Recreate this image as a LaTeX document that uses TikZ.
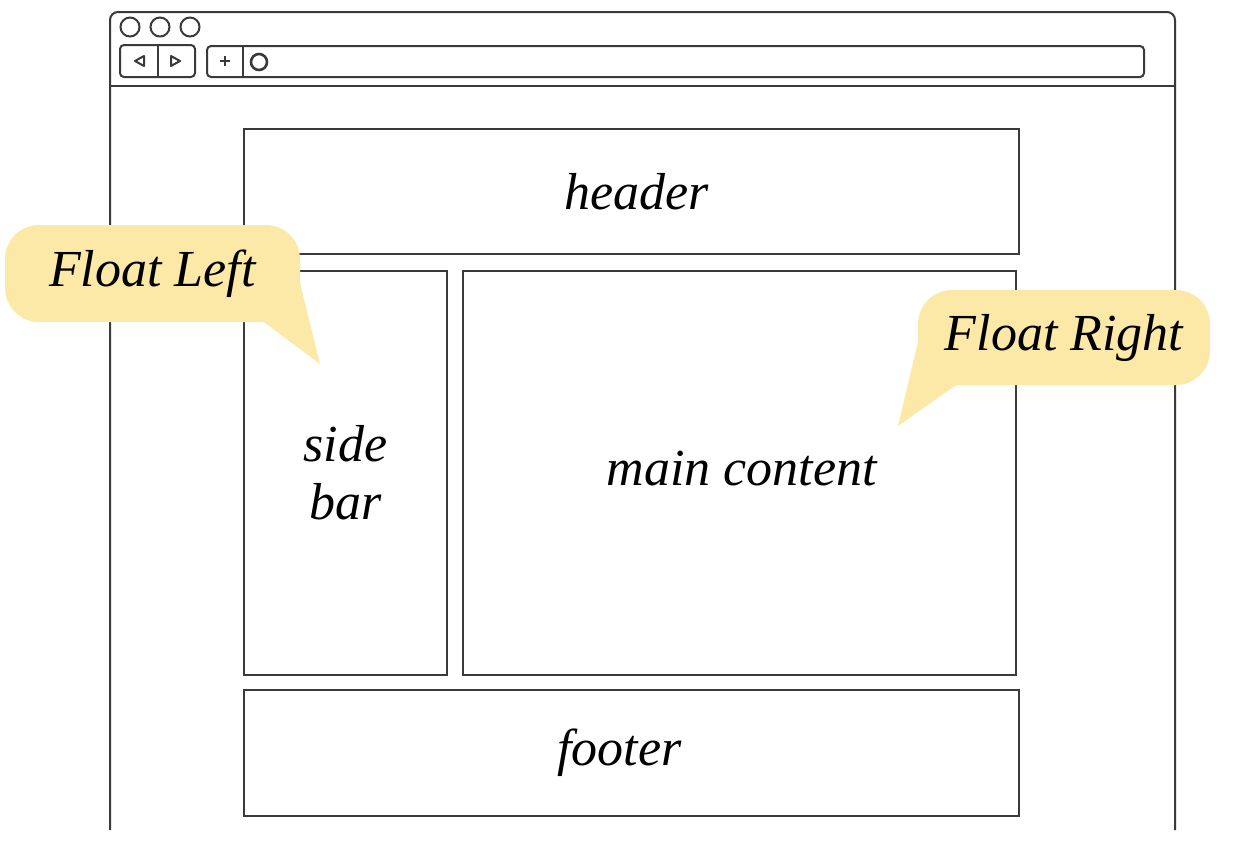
\documentclass[tikz,border=0pt]{standalone}
\usepackage{fontspec}
\setmainfont{Liberation Serif}
\usetikzlibrary{positioning,calc}
\definecolor{wGrey}{HTML}{3A3A3A}
\definecolor{wYellow}{HTML}{FCE9A8}
\tikzset{
  pane/.style   = {draw=wGrey, line width=2.2pt, anchor=north west, inner sep=0pt,
                   align=center, font=\fontsize{52}{58}\selectfont\itshape},
  chrome/.style = {draw=wGrey, line width=2pt},
  knob/.style   = {chrome, circle, minimum size=19pt, inner sep=0pt},
  bubble/.style = {fill=wYellow, rounded corners=34pt, inner sep=0pt,
                   font=\fontsize{52}{58}\selectfont\itshape},
}
\begin{document}
\begin{tikzpicture}[x=1pt, y=-1pt]
  \useasboundingbox (0,0) rectangle (1239,865);
  % browser window
  \draw[chrome, rounded corners=8pt] (110,830) -- (110,12) -- (1175,12) -- (1175,830);
  \draw[chrome] (110,86) -- (1175,86);
  \foreach \i/\x in {1/130,2/160,3/190}
    \node[knob] (dot\i) at (\x,27) {};
  \node[chrome, rounded corners=4pt, minimum width=75pt, minimum height=32pt,
        inner sep=0pt] (nav) at (157.5,61) {};
  \draw[chrome] (nav.north) -- (nav.south);
  \draw[chrome, line join=round] (135,61) -- (144,56) -- (144,66) -- cycle;
  \draw[chrome, line join=round] (171,56) -- (180,61) -- (171,66) -- cycle;
  \node[chrome, rounded corners=4pt, anchor=north west, minimum width=937pt,
        minimum height=31pt, inner sep=0pt] (addr) at (206,45) {};
  \draw[chrome] (243,45) -- (243,76);
  \draw[chrome] (220,61) -- (230,61) (225,56) -- (225,66);
  \node[knob, minimum size=16pt, line width=2.6pt] (reload) at (259,62) {};
  % page layout
  \node[pane, minimum width=775pt, minimum height=125pt] (header) at (243,128) {};
  \node at ($(header.center)+(5,0)$) [font=\fontsize{52}{58}\selectfont\itshape] {header};
  \node[pane, minimum width=203pt, minimum height=404pt] (sidebar) at (243,270) {side\\bar};
  \node[pane, minimum width=553pt, minimum height=404pt] (main) at (462,270) {};
  \node at ($(main.center)+(2,-5)$) [font=\fontsize{52}{58}\selectfont\itshape] {main content};
  \node[pane, minimum width=775pt, minimum height=126pt] (footer) at (243,689) {};
  \node at ($(footer.center)+(-12,0)$) [font=\fontsize{52}{58}\selectfont\itshape] {footer};
  % callouts
  \node[bubble, minimum width=295pt, minimum height=97pt] (fleft) at (152.5,273.5) {Float Left};
  \coordinate (fleft tip) at (320,364);
  \fill[wYellow] ($(fleft.south east)+(-36,0)$) -- (fleft tip) -- ($(fleft.east)+(0,10)$) -- cycle;
  \node[bubble, minimum width=292pt, minimum height=95pt] (fright) at (1064,337.5) {Float Right};
  \coordinate (fright tip) at (898,426);
  \fill[wYellow] ($(fright.south west)+(38,0)$) -- (fright tip) -- ($(fright.west)+(0,5)$) -- cycle;
\end{tikzpicture}
\end{document}
